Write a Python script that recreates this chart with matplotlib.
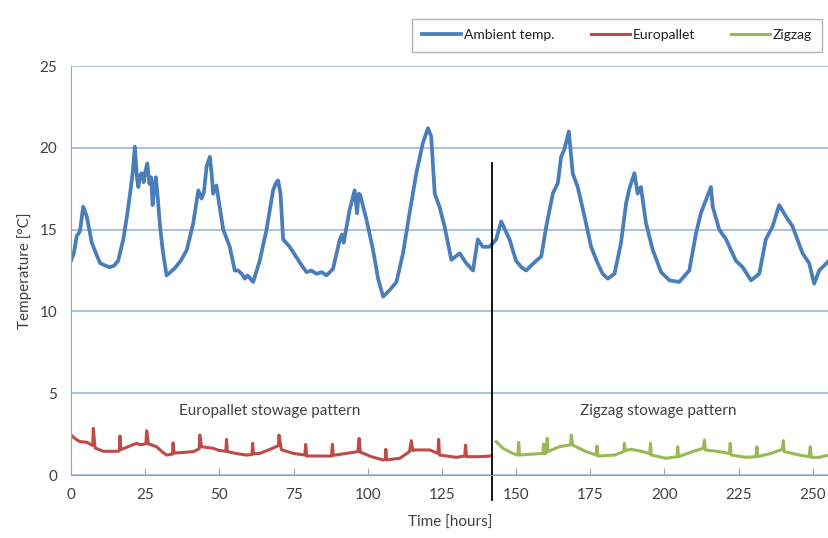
import matplotlib.pyplot as plt

plt.rcParams['font.family'] = ['Lato', 'DejaVu Sans']

# ambient temperature (hours, degC)
ambient_h = [0, 1.0, 1.9, 3.0, 4.1, 5.3, 7.0, 8.5, 9.8, 11.5, 13.1, 14.5, 15.9, 17.6, 19.0, 19.9,
             20.8, 21.5, 22.2, 22.7, 23.2, 23.8, 24.5, 25.1, 25.7, 26.4, 27.0, 27.5, 28.0, 28.6,
             29.2, 30.0, 31.0, 32.2, 33.5, 35.0, 37.0, 39.0, 41.2, 42.9, 44.0, 44.8, 45.7, 46.8,
             47.4, 47.9, 49.0, 50.0, 51.3, 53.5, 55.2, 56.3, 57.5, 58.6, 59.5, 61.4, 63.6, 65.9,
             68.1, 69.2, 69.8, 70.6, 71.5, 73.7, 76.0, 77.8, 79.4, 81.0, 82.7, 84.5, 86.1, 88.3, 90.6,
             91.3, 91.9, 93.9, 95.6, 96.4, 97.0, 97.5, 99.6, 101.8, 103.5, 105.2, 107.4, 109.7,
             111.9, 114.1, 116.4, 118.6, 120.3, 121.4, 122.6, 124.2, 125.9, 128.2, 131.0, 133.2,
             135.5, 137.1, 138.8, 141.1, 143.3, 145.0, 147.8, 150.0, 151.8, 153.4, 156.8, 158.5, 160.2,
             162.4, 164.1, 165.2, 166.3, 167.8, 169.1, 170.8, 173.1, 175.3, 177.5, 179.2, 180.9, 183.2,
             185.4, 187.1, 188.2, 189.9, 191.0, 192.1, 193.8, 196.1, 198.9, 201.7, 205.0, 208.4,
             210.7, 212.3, 214.0, 215.7, 216.3, 218.5, 220.8, 224.1, 226.4, 229.2, 232.0, 234.2,
             236.5, 238.7, 241.0, 243.2, 246.6, 248.8, 250.5, 252.2, 255.5]
ambient_t = [13.1, 13.6, 14.6, 14.9, 16.4, 15.8, 14.2, 13.5, 12.95, 12.8, 12.7, 12.8, 13.1, 14.4, 16.0, 17.2,
             18.5, 20.07, 18.2, 17.6, 18.3, 18.45, 17.9, 18.6, 19.05, 17.8, 18.2, 16.5, 17.5, 18.2,
             17.0, 15.2, 13.6, 12.2, 12.4, 12.65, 13.1, 13.75, 15.4, 17.4, 16.9, 17.3, 18.85, 19.45,
             18.4, 17.2, 17.7, 16.5, 15.0, 13.95, 12.5, 12.5, 12.3, 12.0, 12.2, 11.8, 13.1, 15.0,
             17.4, 17.9, 18.0, 17.2, 14.4, 13.95, 13.3, 12.8, 12.4, 12.5, 12.3, 12.4, 12.2, 12.6, 14.4,
             14.7, 14.2, 16.2, 17.4, 16.0, 17.2, 17.1, 15.6, 13.75, 12.0, 10.9, 11.3, 11.8,
             13.55, 16.0, 18.45, 20.3, 21.2, 20.7, 17.2, 16.4, 15.2, 13.15, 13.55, 12.95,
             12.5, 14.4, 13.95, 13.95, 14.4, 15.5, 14.4, 13.1, 12.7, 12.5, 13.1, 13.35, 15.2,
             17.2, 17.85, 19.45, 19.9, 21.0, 18.45, 17.6, 15.8, 13.95, 12.95, 12.3, 12.0, 12.3,
             14.2, 16.6, 17.5, 18.45, 17.2, 17.6, 15.4, 13.75, 12.4, 11.9, 11.8, 12.5,
             14.8, 16.0, 16.8, 17.6, 16.4, 15.0, 14.4, 13.1, 12.7, 11.9, 12.3, 14.4,
             15.2, 16.5, 15.8, 15.2, 13.55, 12.95, 11.7, 12.5, 13.1]

# europallet stowage
euro_h = [0, 1.5, 3, 5.3, 7.3, 7.5, 8.1, 10.9, 15.9, 16.3, 16.5, 16.8, 19.5, 22.1, 23.2, 25.2, 25.5,
          26.1, 28.8, 30.5, 32.2, 34.2, 34.4, 34.7, 38, 41.2, 43.2, 43.4, 44.0, 47.9, 50, 52.2,
          52.4, 52.7, 56, 59.1, 61.0, 61.2, 61.5, 63.6, 67.9, 69.9, 70.1, 70.9, 74.9, 78.8, 79.1,
          79.4, 81.3, 87.8, 88.1, 88.4, 92.8, 96.7, 97.1, 97.5, 101.2, 105.2, 105.9, 106.1, 106.4,
          110.8, 114.1, 114.7, 115.2, 116, 120.9, 123.7, 123.9, 124.2, 129.9, 132.7, 133, 133.3,
          137.7, 141.6]
euro_t = [2.44, 2.2, 2.04, 2.0, 1.8, 2.85, 1.65, 1.45, 1.45, 1.5, 2.38, 1.55, 1.75, 1.94, 1.85, 1.9, 2.7,
          1.9, 1.73, 1.45, 1.22, 1.28, 1.97, 1.34, 1.38, 1.43, 1.6, 2.44, 1.73, 1.63, 1.5, 1.45,
          2.18, 1.43, 1.3, 1.22, 1.25, 1.94, 1.3, 1.32, 1.63, 1.8, 2.44, 1.55, 1.32, 1.22, 1.87,
          1.16, 1.16, 1.16, 1.87, 1.2, 1.32, 1.43, 2.24, 1.4, 1.12, 0.92, 0.95, 1.57, 0.92,
          1.02, 1.43, 2.1, 1.5, 1.53, 1.53, 1.32, 2.18, 1.22, 1.08, 1.16, 1.83, 1.12,
          1.12, 1.16]

# zigzag stowage
zig_h = [143.3, 145.6, 148.9, 150.6, 150.9, 151.2, 155.7, 159.0, 159.3, 159.6, 160.2, 160.5, 160.8,
         164.6, 168.4, 168.6, 169.1, 173.6, 177.0, 177.3, 177.6, 183.2, 186.3, 186.5, 186.8, 188.8,
         192.7, 195.1, 195.3, 195.6, 200.6, 204.3, 204.5, 204.8, 209.5, 213.1, 213.5, 213.8, 218.5,
         221.9, 222.2, 222.5, 227.5, 230.9, 231.2, 231.5, 235.9, 239.8, 240.1, 240.4, 245.5, 248.8,
         249.2, 249.5, 252.2, 255.5]
zig_t = [2.04, 1.63, 1.32, 1.22, 2.0, 1.22, 1.28, 1.32, 1.9, 1.3, 1.35, 2.24, 1.43,
         1.73, 1.85, 2.44, 1.83, 1.43, 1.22, 1.77, 1.16, 1.22, 1.43, 1.94, 1.5, 1.57,
         1.43, 1.3, 1.94, 1.22, 1.02, 1.12, 1.73, 1.12, 1.43, 1.63, 2.14, 1.53, 1.43,
         1.32, 1.94, 1.22, 1.08, 1.12, 1.73, 1.12, 1.32, 1.57, 2.1, 1.43, 1.22, 1.12,
         1.73, 1.08, 1.08, 1.22]

divider_hour = 141.8
divider_span = [-1.5, 19.1]

fig = plt.figure(figsize=(8.29, 5.38), dpi=100)
ax = fig.add_axes([0.0857, 0.1171, 0.9143, 0.7602])

ax.plot(ambient_h, ambient_t, color='#4a7ebb', lw=2.7, label='Ambient temp.', solid_joinstyle='round')
ax.plot(euro_h, euro_t, color='#be4b48', lw=2.2, label='Europallet', solid_joinstyle='round')
ax.plot(zig_h, zig_t, color='#98b954', lw=2.2, label='Zigzag', solid_joinstyle='round')
ax.plot([divider_hour, divider_hour], divider_span, color='black', lw=1.3, clip_on=False)

ax.text(67, 3.9, 'Europallet stowage pattern', fontsize=11, color='#404040', ha='center', va='center')
ax.text(198, 3.9, 'Zigzag stowage pattern', fontsize=11, color='#404040', ha='center', va='center')

ax.set_xlim(0, 255.5)
ax.set_ylim(0, 25)
ax.set_xticks(range(0, 251, 25))
ax.set_yticks(range(0, 26, 5))
ax.yaxis.grid(True, color='#9bb7da', lw=1.2)
ax.set_axisbelow(True)
for s in ['top', 'right']:
    ax.spines[s].set_visible(False)
for s in ['left', 'bottom']:
    ax.spines[s].set_color('#a0a0a0')
ax.tick_params(axis='x', direction='in', length=5, color='#a0a0a0', labelsize=11, labelcolor='#404040', pad=9)
ax.tick_params(axis='y', length=0, labelsize=11, labelcolor='#404040', pad=10)
ax.set_xlabel('Time [hours]', fontsize=11, color='#404040', labelpad=10)
ax.set_ylabel('Temperature [°C]', fontsize=11, color='#404040', labelpad=5)

leg = fig.legend(loc='upper right', bbox_to_anchor=(1.0, 1 - 12 / 538), ncol=3, fontsize=10,
                 frameon=True, fancybox=False, edgecolor='#a0a0a0', handlelength=2.8,
                 handletextpad=0.2, columnspacing=2.6, borderpad=0.75)
for t in leg.get_texts():
    t.set_color('#202020')

fig.savefig('out.png', dpi=100)
